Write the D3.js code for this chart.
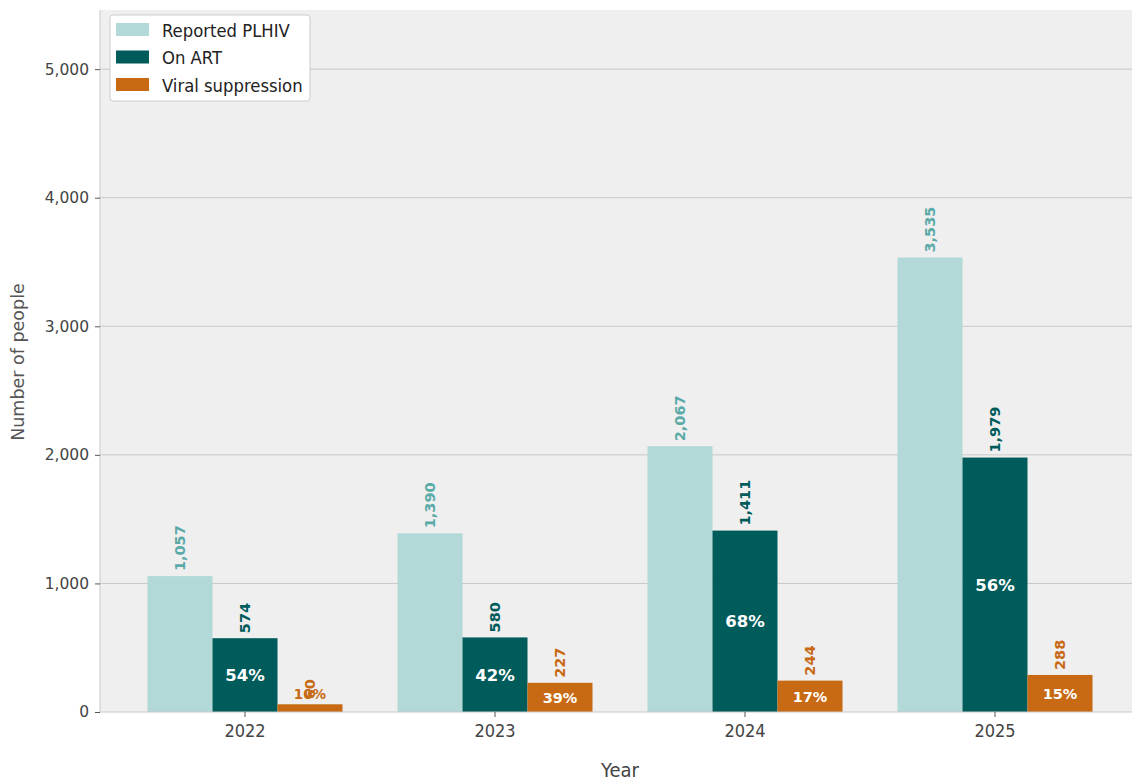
<!DOCTYPE html>
<html><head><meta charset="utf-8">
<script src="https://cdn.jsdelivr.net/npm/d3@7"></script>
<style>body{margin:0;background:#fff;} svg{display:block;}</style>
</head><body>
<svg id="c" width="1132" height="784"></svg>
<script>
const years = ["2022","2023","2024","2025"];
const reported = [1057, 1390, 2067, 3535];
const onArt = [574, 580, 1411, 1979];
const viral = [60, 227, 244, 288];
const seriesNames = ["Reported PLHIV","On ART","Viral suppression"];
const yTicks = [0,1000,2000,3000,4000,5000];

const colors = ["#b2d8d8","#005b5b","#c86914"];
const labelColors = ["#5aaaa7","#005b5b","#c86914"];

const svg = d3.select("#c");
const L = 100, R = 1140, T = 10, B = 712;

const x = d3.scaleBand().domain(years).range([120,1120]).paddingInner(0.22).paddingOuter(0.11);
const xs = d3.scaleBand().domain([0,1,2]).range([0, x.bandwidth()]);
const y = d3.scaleLinear().domain([0, 5460]).range([B, T]);

svg.append("rect").attr("x",L).attr("y",T).attr("width",R-L).attr("height",B-T).attr("fill","#efefef");

// grid
svg.append("g").selectAll("line").data(yTicks.filter(d=>d>0)).join("line")
  .attr("x1",L).attr("x2",R).attr("y1",d=>y(d)).attr("y2",d=>y(d))
  .attr("stroke","#c8c8c8").attr("stroke-width",1);

const data = [reported, onArt, viral];

// bars
data.forEach((arr, si) => {
  svg.append("g").selectAll("rect").data(arr).join("rect")
    .attr("x",(d,i)=>x(years[i])+xs(si))
    .attr("width",xs.bandwidth())
    .attr("y",d=>y(d)).attr("height",d=>B-y(d))
    .attr("fill",colors[si]);
  // value labels rotated
  svg.append("g").selectAll("text").data(arr).join("text")
    .attr("transform",(d,i)=>`translate(${x(years[i])+xs(si)+xs.bandwidth()/2+5},${y(d)-5}) rotate(-90)`)
    .attr("text-anchor","start")
    .attr("font-family","DejaVu Sans").attr("font-weight","bold").attr("font-size",14.5)
    .attr("fill",labelColors[si])
    .text(d=>d3.format(",")(d));
});

// percent labels
const fmtPct = v => Math.round(v*100)+"%";
svg.append("g").selectAll("text").data(onArt).join("text")
  .attr("x",(d,i)=>x(years[i])+xs(1)+xs.bandwidth()/2)
  .attr("y",d=>(y(d)+B)/2)
  .attr("dy","0.36em").attr("text-anchor","middle")
  .attr("font-family","DejaVu Sans").attr("font-weight","bold").attr("font-size",16.5)
  .attr("fill","#fff")
  .text((d,i)=>fmtPct(d/reported[i]));

svg.append("g").selectAll("text").data(viral).join("text")
  .attr("x",(d,i)=>x(years[i])+xs(2)+xs.bandwidth()/2)
  .attr("y",d=> (B-y(d))<20 ? y(d)-10 : (y(d)+B)/2)
  .attr("dy","0.36em").attr("text-anchor","middle")
  .attr("font-family","DejaVu Sans").attr("font-weight","bold")
  .attr("font-size",d=> (B-y(d))<20 ? 13.5 : 14.5)
  .attr("fill",d=> (B-y(d))<20 ? colors[2] : "#fff")
  .text((d,i)=>fmtPct(d/onArt[i]));

// axes
const ya = svg.append("g").attr("transform",`translate(${L},0)`)
  .call(d3.axisLeft(y).tickValues(yTicks).tickFormat(d3.format(",")).tickSize(5).tickPadding(6));
ya.select(".domain").attr("stroke","#c8c8c8").attr("d",`M0,${T}V${B}`);
ya.selectAll(".tick line").attr("stroke","#555");
ya.selectAll("text").attr("font-family","DejaVu Sans").attr("font-size",15.5).attr("fill","#444");

const xa = svg.append("g").attr("transform",`translate(0,${B})`)
  .call(d3.axisBottom(x).tickSize(5).tickPadding(7));
xa.select(".domain").attr("stroke","#c8c8c8").attr("d",`M${L},0H${R}`);
xa.selectAll(".tick line").attr("stroke","#555");
xa.selectAll("text").attr("font-family","DejaVu Sans Condensed, DejaVu Sans").attr("font-stretch","condensed").attr("font-size",18).attr("fill","#444");

svg.append("text").attr("x",620).attr("y",777).attr("text-anchor","middle")
  .attr("font-family","DejaVu Sans Condensed, DejaVu Sans").attr("font-stretch","condensed")
  .attr("font-size",20).attr("fill","#444").text("Year");
svg.append("text").attr("transform",`translate(24,${(T+B)/2 + 1}) rotate(-90)`).attr("text-anchor","middle")
  .attr("font-family","DejaVu Sans").attr("font-size",17.5).attr("fill","#555").text("Number of people");

// legend
const lg = svg.append("g");
lg.append("rect").attr("x",110).attr("y",15).attr("width",200).attr("height",86).attr("rx",3)
  .attr("fill","#fff").attr("stroke","#cccccc");
seriesNames.forEach((n,i)=>{
  lg.append("rect").attr("x",116).attr("y",23+i*27.5).attr("width",33).attr("height",13).attr("fill",colors[i]);
  lg.append("text").attr("x",162).attr("y",30+i*27.5).attr("dy","0.36em")
    .attr("font-family","DejaVu Sans Condensed, DejaVu Sans").attr("font-stretch","condensed")
    .attr("font-size",18.3).attr("fill","#222").text(n);
});
</script>
</body></html>
